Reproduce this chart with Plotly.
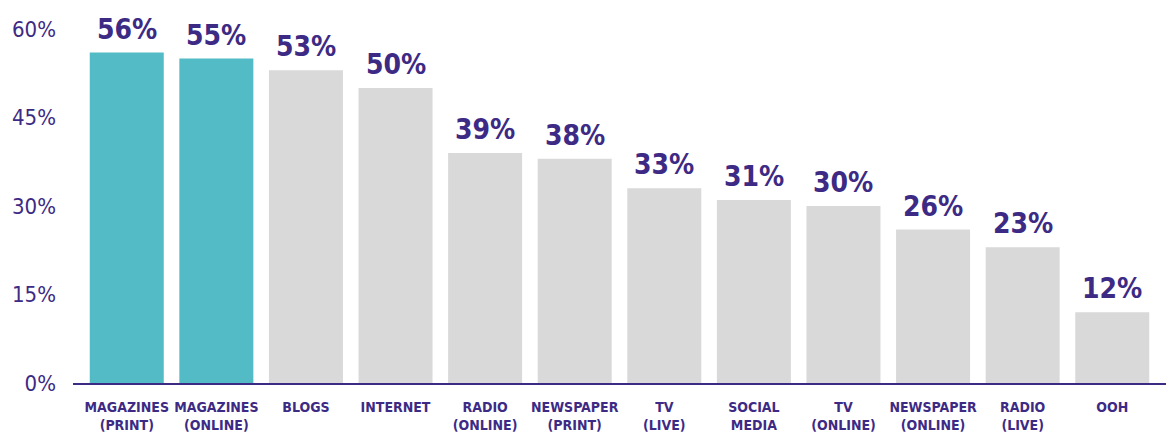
import plotly.graph_objects as go

categories = ["MAGAZINES<br>(PRINT)", "MAGAZINES<br>(ONLINE)", "BLOGS", "INTERNET",
              "RADIO<br>(ONLINE)", "NEWSPAPER<br>(PRINT)", "TV<br>(LIVE)", "SOCIAL<br>MEDIA",
              "TV<br>(ONLINE)", "NEWSPAPER<br>(ONLINE)", "RADIO<br>(LIVE)", "OOH"]
values = [56, 55, 53, 50, 39, 38, 33, 31, 30, 26, 23, 12]
highlight = [True, True, False, False, False, False, False, False, False, False, False, False]
y_ticks = [0, 15, 30, 45, 60]
y_tick_labels = ["0%", "15%", "30%", "45%", "60%"]

TEAL = "#52bbc6"
GRAY = "#d9d9d9"
PURPLE = "#3d2a84"
FONT = "DejaVu Sans Condensed, Liberation Sans Narrow, sans-serif"

x = list(range(len(categories)))
fig = go.Figure(go.Bar(
    x=x, y=values,
    marker=dict(color=[TEAL if h else GRAY for h in highlight], line=dict(width=0)),
    hoverinfo="skip",
))

for xi, v in zip(x, values):
    fig.add_annotation(
        x=xi, y=v, text=f"{v}%", showarrow=False,
        yanchor="bottom", yshift=5,
        font=dict(family=FONT, size=28, color=PURPLE, weight="bold"),
    )

fig.update_layout(
    width=1166, height=443,
    margin=dict(l=73, r=0, t=29, b=60),
    paper_bgcolor="white", plot_bgcolor="white",
    bargap=0.174,
    showlegend=False,
)
fig.update_xaxes(
    range=[-0.6, 11.6],
    tickmode="array", tickvals=x, ticktext=categories,
    tickfont=dict(family=FONT, size=14, color=PURPLE, weight="bold"),
    tickangle=0, automargin=False,
    showline=True, linecolor=PURPLE, linewidth=2,
    showgrid=False, zeroline=False, ticks="",
    ticklabelstandoff=10,
)
fig.update_yaxes(
    range=[0, 60],
    tickmode="array", tickvals=y_ticks, ticktext=y_tick_labels,
    tickfont=dict(family=FONT, size=22, color=PURPLE),
    showgrid=False, zeroline=False, showline=False, ticks="",
    automargin=False,
    ticklabelstandoff=16,
)

fig.write_html("out.html")
